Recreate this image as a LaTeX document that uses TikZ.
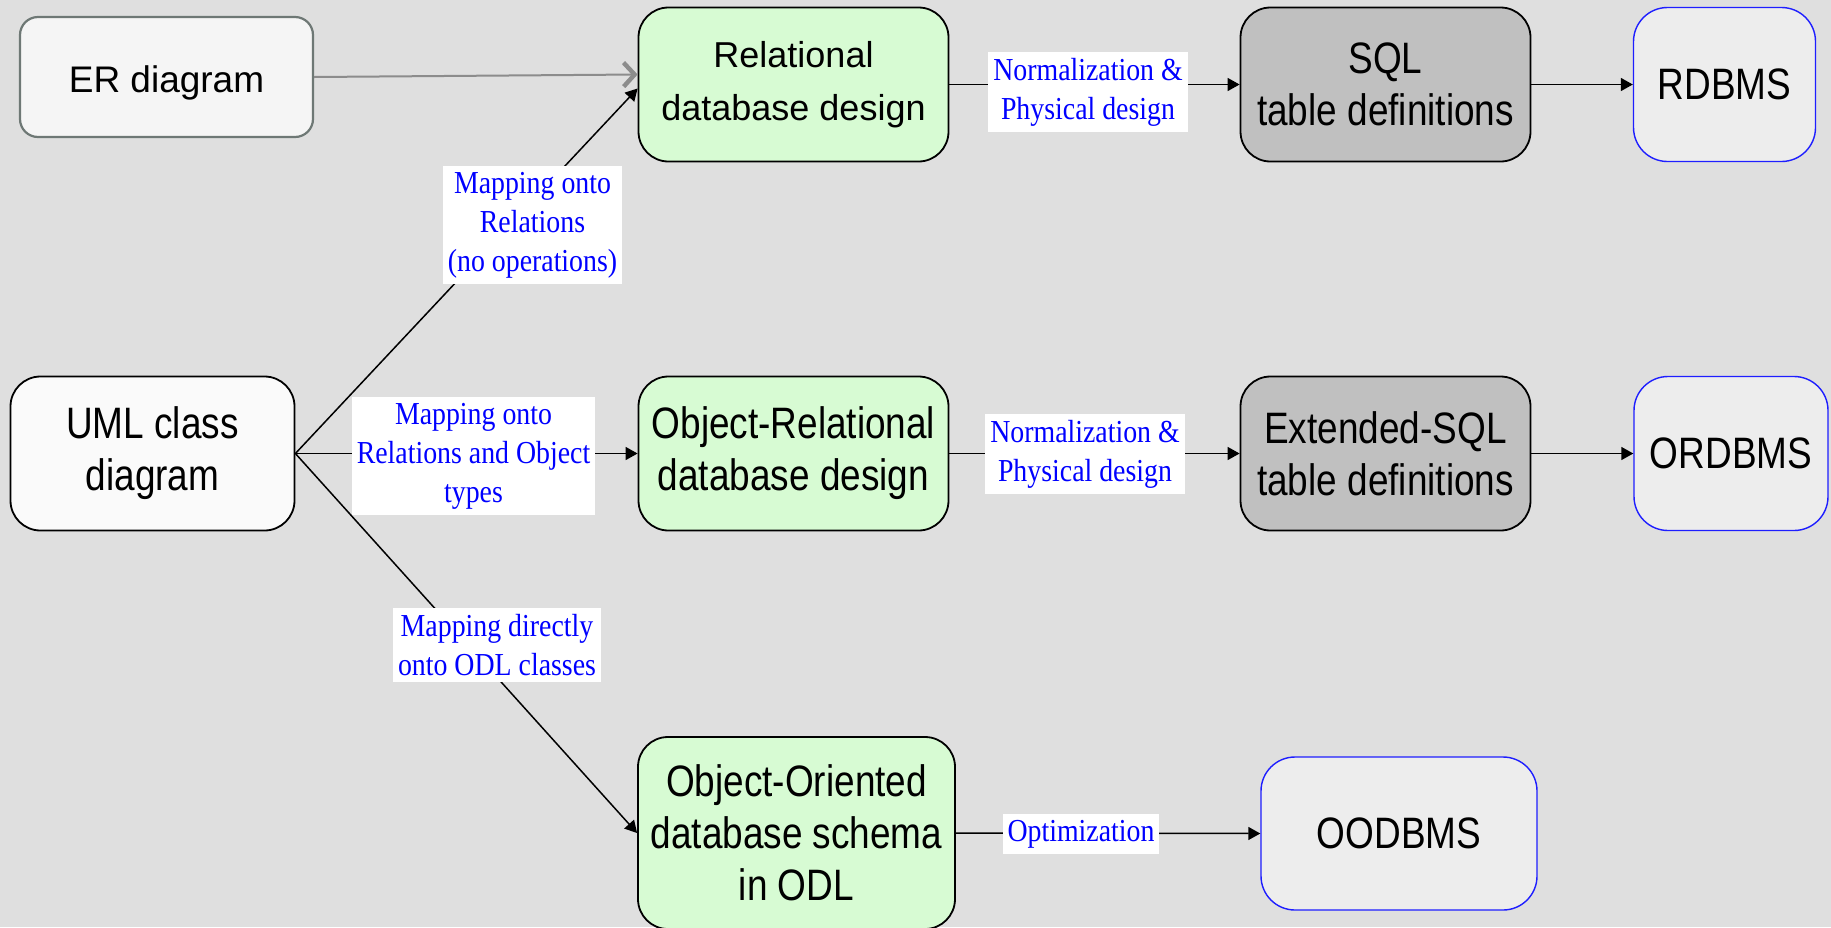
\documentclass[tikz,border=0pt]{standalone}
\usepackage{fontspec}
\usetikzlibrary{arrows.meta}
\newfontfamily\boxfont{Liberation Sans}
\newfontfamily\tallfont[FakeStretch=0.84]{Liberation Sans}
\newfontfamily\labfont[FakeStretch=0.87]{Liberation Serif}
\definecolor{bgcol}{HTML}{DFDFDF}
\definecolor{greenfill}{HTML}{D7FBD3}
\definecolor{grayfill}{HTML}{C0C0C0}
\definecolor{dbmsfill}{HTML}{EDEDED}
\definecolor{dbmsline}{HTML}{1E1EFF}
\definecolor{erfill}{HTML}{F5F5F5}
\definecolor{erline}{HTML}{6E7875}
\definecolor{umlfill}{HTML}{FAFAFA}
\definecolor{labblue}{HTML}{0000FF}
\definecolor{erarrow}{HTML}{8C8C8C}
\begin{document}
\begin{tikzpicture}[x=0.5pt,y=-0.5pt,
  box/.style={draw, line width=0.9pt, rounded corners=15pt, align=center, inner sep=0pt},
  normaltext/.style={font=\boxfont\fontsize{18}{26.5}\selectfont},
  talltext/.style={font=\tallfont\fontsize{22}{26}\selectfont},
  greenbox/.style={box, fill=greenfill},
  graybox/.style={box, fill=grayfill, talltext},
  dbmsbox/.style={box, draw=dbmsline, fill=dbmsfill, rounded corners=17pt, line width=0.7pt, talltext},
  erbox/.style={box, draw=erline, fill=erfill, rounded corners=9pt, line width=1.1pt,
    font=\boxfont\fontsize{18.5}{22}\selectfont},
  umlbox/.style={box, fill=umlfill, talltext},
  lab/.style={fill=white, text=labblue, align=center, inner xsep=2.5pt, inner ysep=3pt,
    font=\labfont\fontsize{16}{19.5}\selectfont},
  conn/.style={line width=0.75pt, -{Triangle[length=6pt,width=6.5pt]}},
  erconn/.style={draw=erarrow, line width=1pt,
    -{Straight Barb[length=5.5pt,width=12pt,line width=2.2pt]}}
]
% canvas
\fill[bgcol] (0,0) rectangle (1831,927);
\useasboundingbox (0,0) rectangle (1831,927);

% top row: relational path
\node[erbox, minimum width=146.5pt, minimum height=60pt] (er) at (166.5,77)
  {\raisebox{-3pt}[\height][\depth]{ER diagram}};
\node[greenbox, normaltext, minimum width=155pt, minimum height=77pt] (rel) at (793.5,84.5)
  {Relational\\database design};
\node[graybox, minimum width=145pt, minimum height=77pt] (sql) at (1385.5,84.5)
  {SQL\\table definitions};
\node[dbmsbox, minimum width=91pt, minimum height=77pt] (rdbms) at (1724.5,84.5) {RDBMS};

% middle row: object-relational path
\node[umlbox, minimum width=142pt, minimum height=77pt] (uml) at (152.5,453.5)
  {UML class\\diagram};
\node[greenbox, talltext, minimum width=155pt, minimum height=77pt] (orel) at (793.5,453.5)
  {Object-Relational\\database design};
\node[graybox, minimum width=145pt, minimum height=77pt] (esql) at (1385.5,453.5)
  {Extended-SQL\\table definitions};
\node[dbmsbox, minimum width=97pt, minimum height=77pt] (ordbms) at (1731,453.5) {ORDBMS};

% bottom row: object-oriented path
\node[greenbox, talltext, minimum width=158.5pt, minimum height=96pt]
  (oo) at (796.5,833) {Object-Oriented\\database schema\\in ODL};
\node[dbmsbox, minimum width=138pt, minimum height=76.5pt] (oodbms) at (1399,833.5) {OODBMS};

% connectors
\draw[erconn] (er.east) -- ([yshift=5pt]rel.west);
\draw[conn] (uml.east) -- ([yshift=-2pt]rel.west);
\draw[conn] (uml.east) -- (orel.west);
\draw[conn] (uml.east) -- (oo.west);
\draw[conn] (rel.east) -- (sql.west);
\draw[conn] (sql.east) -- (rdbms.west);
\draw[conn] (orel.east) -- (esql.west);
\draw[conn] (esql.east) -- (ordbms.west);
\draw[conn] (oo.east) -- (oodbms.west);

% connector labels
\node[lab] (mapRel) at (532.5,225) {Mapping onto\\Relations\\(no operations)};
\node[lab] (mapObj) at (473.5,456) {Mapping onto\\Relations and Object\\types};
\node[lab] (mapOdl) at (497,645) {Mapping directly\\onto ODL classes};
\node[lab] (normA) at (1088,92) {Normalization \&\\Physical design};
\node[lab] (normB) at (1085,454) {Normalization \&\\Physical design};
\node[lab] (optim) at (1081,834) {Optimization};
\end{tikzpicture}
\end{document}
